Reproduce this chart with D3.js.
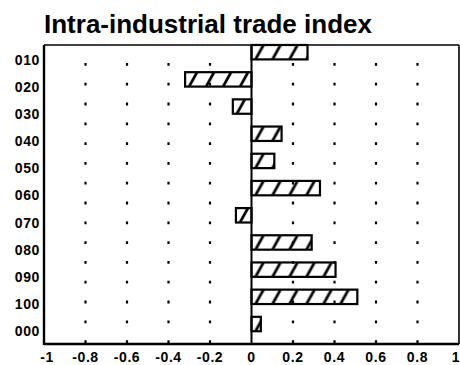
<!DOCTYPE html>
<html>
<head>
<meta charset="utf-8">
<script src="https://cdn.jsdelivr.net/npm/d3@7"></script>
<style>
  html, body { margin: 0; padding: 0; background: #fff; }
  svg { display: block; font-family: "Liberation Sans", Arial, Helvetica, sans-serif; }
</style>
</head>
<body>
<svg id="chart" width="460" height="365"></svg>
<script>
// Industry codes, top to bottom
const categories = ["010", "020", "030", "040", "050", "060", "070", "080", "090", "100", "000"];
// Intra-industrial trade index for each code
const indexValues = [0.27, -0.32, -0.09, 0.145, 0.11, 0.33, -0.075, 0.29, 0.405, 0.51, 0.045];
// Horizontal axis ticks
const xTicks = [-1, -0.8, -0.6, -0.4, -0.2, 0, 0.2, 0.4, 0.6, 0.8, 1];
const xTickLabels = ["-1", "-0.8", "-0.6", "-0.4", "-0.2", "0", "0.2", "0.4", "0.6", "0.8", "1"];

const rows = categories.map((c, i) => ({ cat: c, value: indexValues[i] }));

const svg = d3.select("#chart");
const plot = { left: 44, right: 459, top: 45, bottom: 344 };

const x = d3.scaleLinear().domain([-1, 1]).range([plot.left, plot.right]);
const y = d3.scaleBand().domain(categories).range([plot.top, plot.bottom]).paddingInner(0).paddingOuter(0);
const barH = y.bandwidth() * 0.53;

// Title
svg.append("text")
  .attr("x", plot.left)
  .attr("y", 33)
  .attr("font-size", 26)
  .attr("font-weight", "bold")
  .attr("fill", "#000")
  .text("Intra-industrial trade index");

// Dotted vertical gridlines
const gridTicks = xTicks.filter(t => t !== 0 && t !== -1 && t !== 1);
svg.append("g")
  .selectAll("line")
  .data(gridTicks)
  .join("line")
  .attr("x1", d => x(d)).attr("x2", d => x(d))
  .attr("y1", plot.top + 18).attr("y2", plot.bottom)
  .attr("stroke", "#000")
  .attr("stroke-width", 2.2)
  .attr("stroke-dasharray", "2.8 17");

// Hatch pattern per bar, anchored at the bar's top-left
const defs = svg.append("defs");
const hatchStep = 17;
const hatchLean = 8;
rows.forEach((d, i) => {
  const x0 = x(Math.min(0, d.value));
  const p = defs.append("pattern")
    .attr("id", "hatch" + i)
    .attr("patternUnits", "userSpaceOnUse")
    .attr("width", hatchStep)
    .attr("height", barH)
    .attr("patternTransform", `translate(${x0 + 4},${y(d.cat)})`);
  [-hatchStep, 0, hatchStep].forEach(off => {
    p.append("line")
      .attr("x1", off).attr("y1", barH)
      .attr("x2", off + hatchLean).attr("y2", 0)
      .attr("stroke", "#000")
      .attr("stroke-width", 2.7);
  });
});

// Bars
svg.append("g")
  .selectAll("rect")
  .data(rows)
  .join("rect")
  .attr("x", d => x(Math.min(0, d.value)))
  .attr("y", d => y(d.cat))
  .attr("width", d => Math.abs(x(d.value) - x(0)))
  .attr("height", barH)
  .attr("fill", (d, i) => `url(#hatch${i})`)
  .attr("stroke", "#000")
  .attr("stroke-width", 2.2);

// Zero line
svg.append("line")
  .attr("x1", x(0)).attr("x2", x(0))
  .attr("y1", plot.top).attr("y2", plot.bottom)
  .attr("stroke", "#000")
  .attr("stroke-width", 2);

// Frame
svg.append("line").attr("x1", plot.left).attr("x2", plot.right)
  .attr("y1", plot.top).attr("y2", plot.top)
  .attr("stroke", "#000").attr("stroke-width", 1.6);
svg.append("line").attr("x1", plot.right).attr("x2", plot.right)
  .attr("y1", plot.top).attr("y2", plot.bottom)
  .attr("stroke", "#000").attr("stroke-width", 1.6);
svg.append("line").attr("x1", plot.left).attr("x2", plot.left)
  .attr("y1", plot.top).attr("y2", plot.bottom + 1)
  .attr("stroke", "#000").attr("stroke-width", 2.4);
svg.append("line").attr("x1", plot.left).attr("x2", plot.right)
  .attr("y1", plot.bottom).attr("y2", plot.bottom)
  .attr("stroke", "#000").attr("stroke-width", 2.4);

// Category labels
svg.append("g")
  .selectAll("text")
  .data(categories)
  .join("text")
  .attr("x", 40)
  .attr("y", d => y(d) + 19.5)
  .attr("text-anchor", "end")
  .attr("font-size", 14)
  .attr("font-weight", "bold")
  .attr("letter-spacing", 0.6)
  .attr("fill", "#000")
  .text(d => d);

// Value axis labels
const lastTick = xTicks.length - 1;
svg.append("g")
  .selectAll("text")
  .data(xTicks)
  .join("text")
  .attr("x", (d, i) => i === 0 ? x(d) + 3 : i === lastTick ? x(d) - 3 : x(d))
  .attr("y", 362)
  .attr("text-anchor", "middle")
  .attr("font-size", 14)
  .attr("font-weight", "bold")
  .attr("letter-spacing", 0.6)
  .attr("fill", "#000")
  .text((d, i) => xTickLabels[i]);
</script>
</body>
</html>
